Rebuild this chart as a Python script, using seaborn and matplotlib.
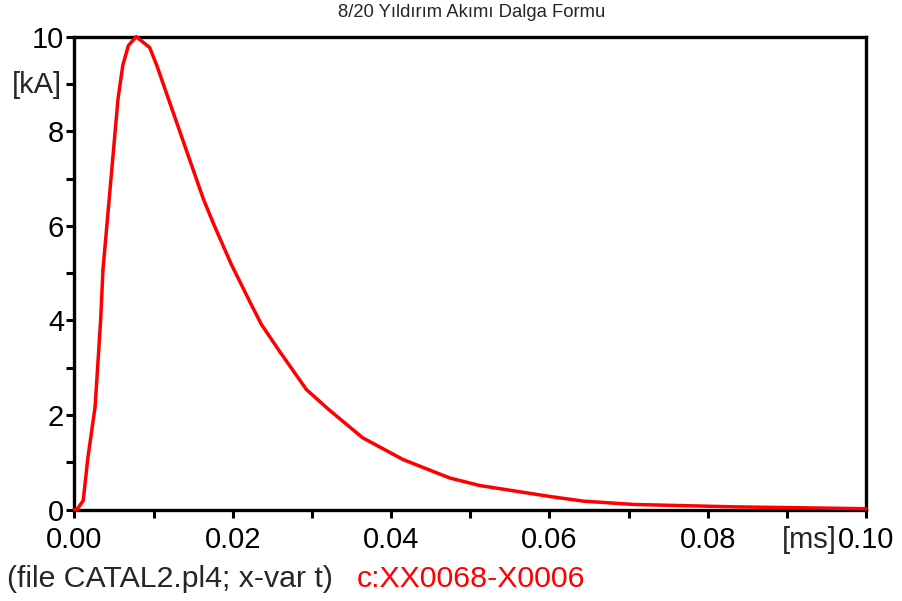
import numpy as np
import pandas as pd
import matplotlib
matplotlib.use("Agg")
import matplotlib.pyplot as plt
from matplotlib.ticker import MultipleLocator, FixedLocator
import seaborn as sns

# 8/20 lightning current wave
t_ms = [0.0, 0.0003, 0.0011, 0.0017, 0.0026, 0.0033, 0.0036, 0.0055, 0.0061, 0.0068,
        0.0078, 0.0095, 0.0104, 0.0144, 0.0163, 0.0175, 0.0198, 0.0222, 0.0236,
        0.0259, 0.0293, 0.0321, 0.0364, 0.0415, 0.0474, 0.0512, 0.0600, 0.0643,
        0.0706, 0.0832, 0.1000]
i_ka = [0.0, 0.0, 0.19, 1.11, 2.17, 4.0, 5.08, 8.69, 9.39, 9.81,
        10.0, 9.77, 9.39, 7.47, 6.56, 6.07, 5.19, 4.38, 3.92,
        3.35, 2.54, 2.12, 1.52, 1.06, 0.67, 0.51, 0.28, 0.18,
        0.11, 0.06, 0.02]

x_ticks = [0.00, 0.02, 0.04, 0.06, 0.08, 0.10]
x_labels = ["0.00", "0.02", "0.04", "0.06", "0.08", "0.10"]
y_ticks = [0, 2, 4, 6, 8, 10]

title = "8/20 Yıldırım Akımı Dalga Formu"
file_note = "(file CATAL2.pl4; x-var t)"
curve_name = "c:XX0068-X0006"

sns.set_style("white")
plt.rcParams["font.family"] = ["Liberation Sans", "DejaVu Sans"]

FS = 21
FS_NOTE = 21.8

df = pd.DataFrame({"t": t_ms, "i": i_ka})

fig = plt.figure(figsize=(9.03, 6.01), dpi=100)
ax = fig.add_axes([0.0825, 0.152, 0.959 - 0.0825, 0.939 - 0.152])

sns.lineplot(data=df, x="t", y="i", ax=ax, color="#ff0000", linewidth=2.5,
             clip_on=False, zorder=5)

ax.set_xlim(0, 0.10)
ax.set_ylim(0, 10)
ax.set_xlabel("")
ax.set_ylabel("")

for s in ax.spines.values():
    s.set_visible(True)
    s.set_color("black")
    s.set_linewidth(2.4)

ax.xaxis.set_major_locator(FixedLocator(x_ticks))
ax.set_xticklabels(x_labels)
ax.xaxis.set_minor_locator(MultipleLocator(0.01))
ax.yaxis.set_major_locator(FixedLocator(y_ticks))
ax.yaxis.set_minor_locator(MultipleLocator(1))

ax.tick_params(axis="both", which="both", direction="out", length=5.5, width=2.2,
               color="black", labelsize=FS, labelcolor="black")
ax.tick_params(axis="x", which="both", bottom=True, pad=6)
ax.tick_params(axis="y", which="both", left=True, pad=2)
ax.grid(False)

# unit labels
ax.annotate("[kA]", xy=(0, 9), xycoords="data", xytext=(-9, -1), textcoords="offset points",
            ha="right", va="center", fontsize=FS)
ax.annotate("[ms]", xy=(0.10, 0), xycoords="data", xytext=(-21, -11.5), textcoords="offset points",
            ha="right", va="top", fontsize=FS)

fig.text(0.522, 0.980, title, ha="center", va="center", fontsize=13.3)
fig.text(0.008, 0.037, file_note, ha="left", va="center", fontsize=FS_NOTE)
fig.text(0.395, 0.037, curve_name, ha="left", va="center", fontsize=FS_NOTE, color="#ff0000")

fig.savefig("out.png", dpi=100, facecolor="white")
